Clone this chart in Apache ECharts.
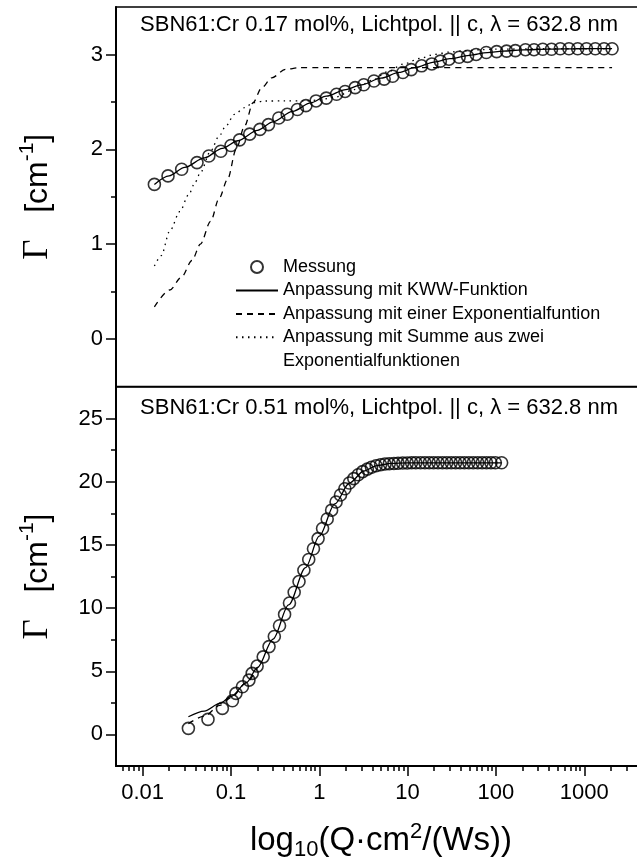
<!DOCTYPE html>
<html>
<head>
<meta charset="utf-8">
<script src="https://cdn.jsdelivr.net/npm/echarts@6/dist/echarts.min.js"></script>
<style>
  html, body { margin: 0; padding: 0; background: #fff; }
  #chart { width: 637px; height: 863px; }
</style>
</head>
<body>
<div id="chart"></div>
<script>
// ---- Upper panel: SBN61:Cr 0.17 mol% ----
const qTop = [0.0136, 0.0194, 0.0277, 0.0413, 0.0562, 0.0768, 0.1002, 0.1253, 0.163, 0.213, 0.266, 0.348,
  0.434, 0.565, 0.706, 0.92, 1.20, 1.57, 1.96, 2.55, 3.19, 4.16, 5.43, 6.78, 8.84, 11.0, 14.4, 18.8, 23.5,
  29.4, 38.3, 47.7, 59.7, 77.8, 102, 132, 166, 216, 270, 339, 426, 535, 671, 843, 1061, 1334, 1675, 2065];
const gammaTop = [1.63, 1.72, 1.79, 1.86, 1.93, 1.98, 2.04, 2.10, 2.16, 2.21, 2.26, 2.33,
  2.37, 2.42, 2.46, 2.51, 2.54, 2.58, 2.61, 2.65, 2.68, 2.72, 2.74, 2.77, 2.81, 2.84, 2.88, 2.90, 2.93,
  2.95, 2.97, 2.98, 3.00, 3.02, 3.03, 3.035, 3.04, 3.05, 3.05, 3.055, 3.055, 3.06, 3.06, 3.06, 3.06, 3.06, 3.06, 3.06];

const qTopKww = [0.0136, 0.02, 0.03, 0.05, 0.08, 0.12, 0.2, 0.3, 0.5, 0.8, 1.2, 2, 3, 5, 8, 12, 20, 30, 50,
  80, 120, 200, 400, 800, 2065];
const gammaTopKww = [1.63, 1.72, 1.81, 1.91, 2.01, 2.09, 2.20, 2.29, 2.40, 2.49, 2.56, 2.63, 2.68, 2.75, 2.81,
  2.86, 2.92, 2.955, 2.99, 3.02, 3.035, 3.048, 3.056, 3.06, 3.062];

const qTopExp1 = [0.0136, 0.0203, 0.0277, 0.0362, 0.0451, 0.0589, 0.0735, 0.0917, 0.1146, 0.143, 0.178,
  0.223, 0.29, 0.415, 0.592, 1.0, 2065];
const gammaTopExp1 = [0.34, 0.517, 0.655, 0.828, 1.0, 1.241, 1.483, 1.684, 2.0, 2.246, 2.491,
  2.649, 2.754, 2.842, 2.86, 2.862, 2.862];

const qTopExp2 = [0.0136, 0.01625, 0.0203, 0.0265, 0.033, 0.0395, 0.0451, 0.0589, 0.0735, 0.0877, 0.1096,
  0.143, 0.178, 0.243, 0.4, 0.706, 1.0, 1.5, 2.5, 4, 6, 9, 14, 20, 30, 45, 70, 100, 300, 2065];
const gammaTopExp2 = [0.77, 0.879, 1.138, 1.345, 1.517, 1.655, 1.754, 1.982, 2.14, 2.246, 2.368,
  2.439, 2.491, 2.509, 2.51, 2.51, 2.52, 2.55, 2.63, 2.73, 2.82, 2.9, 2.96, 3.0, 3.025, 3.04, 3.05, 3.055, 3.06, 3.06];

// ---- Lower panel: SBN61:Cr 0.51 mol% ----
const qBottom = [0.033, 0.055, 0.080, 0.104, 0.114, 0.135, 0.160, 0.174, 0.198, 0.232, 0.27, 0.31, 0.355,
  0.405, 0.46, 0.52, 0.59, 0.67, 0.76, 0.86, 0.97, 1.09, 1.23, 1.38, 1.55, 1.74, 1.95, 2.19, 2.46, 2.76,
  3.1, 3.5, 3.9, 4.4, 4.95, 5.55, 6.2, 7.0, 7.8, 8.8, 9.9, 11.1, 12.4, 14, 15.7, 17.6, 19.7, 22.1, 24.8,
  27.8, 31.2, 35, 39.3, 44, 49.4, 55.4, 62.2, 69.8, 78.3, 87.8, 98.5, 116];
const gammaBottom = [0.48, 1.19, 2.06, 2.66, 3.25, 3.77, 4.30, 4.83, 5.41, 6.14, 6.95, 7.75, 8.6,
  9.5, 10.4, 11.25, 12.1, 13.0, 13.85, 14.7, 15.5, 16.3, 17.05, 17.75, 18.4, 18.95, 19.45, 19.9, 20.25, 20.55,
  20.8, 21.0, 21.15, 21.27, 21.35, 21.4, 21.43, 21.45, 21.47, 21.48, 21.49, 21.5, 21.5, 21.5, 21.5, 21.5,
  21.5, 21.5, 21.5, 21.5, 21.5, 21.5, 21.5, 21.5, 21.5, 21.5, 21.5, 21.5, 21.5, 21.5, 21.5, 21.5];

const qBottomKww = [0.033, 0.05, 0.075, 0.1, 0.15, 0.2, 0.3, 0.45, 0.7, 1.0, 1.5, 2.2, 3.2, 4.5, 6.5, 10, 20, 50, 116];
const gammaBottomKww = [1.4, 1.85, 2.45, 3.0, 4.1, 5.3, 7.55, 10.25, 13.2, 15.7, 18.25, 19.9, 20.85, 21.28,
  21.45, 21.5, 21.5, 21.5, 21.5];

const qBottomExp1 = [0.033, 0.05, 0.075, 0.1, 0.15, 0.2];
const gammaBottomExp1 = [0.85, 1.45, 2.3, 2.9, 4.1, 5.3];

// ---- Axis ticks and labels ----
const xTickValues = [0.01, 0.1, 1, 10, 100, 1000];
const xTickLabels = ['0.01', '0.1', '1', '10', '100', '1000'];
const xMinorTicks = [];
[0.001, 0.01, 0.1, 1, 10, 100, 1000].forEach(function (d) {
  for (let k = 2; k <= 9; k++) {
    const v = +(d * k).toPrecision(3);
    if (v > 0.005 && v < 5000) xMinorTicks.push(v);
  }
});
const yTopTicks = [0, 1, 2, 3];
const yTopMinor = [0.5, 1.5, 2.5];
const yBottomTicks = [0, 5, 10, 15, 20, 25];
const yBottomMinor = [2.5, 7.5, 12.5, 17.5, 22.5];

const titleTop = 'SBN61:Cr 0.17 mol%, Lichtpol. || c, \u03bb = 632.8 nm';
const titleBottom = 'SBN61:Cr 0.51 mol%, Lichtpol. || c, \u03bb = 632.8 nm';
const nameMeas = 'Messung';
const nameKww = 'Anpassung mit KWW-Funktion';
const nameExp1 = 'Anpassung mit einer Exponentialfuntion';
const nameExp2 = 'Anpassung mit Summe aus zwei Exponentialfunktionen';

const SANS = '"Liberation Sans", Arial, Helvetica, sans-serif';
const SERIF = '"Liberation Serif", "Times New Roman", serif';

function pairs(xs, ys) { return xs.map(function (x, i) { return [x, ys[i]]; }); }

function majorX(gridIndex, showLabels) {
  const axis = {
    type: 'log', logBase: 10, gridIndex: gridIndex, min: 0.005, max: 5000, position: 'bottom',
    axisLine: { show: showLabels, onZero: false, lineStyle: { color: '#000', width: 2 } },
    axisTick: { show: showLabels, inside: false, length: 10, customValues: xTickValues,
      lineStyle: { color: '#000', width: 1.5 } },
    axisLabel: { show: showLabels, customValues: xTickValues, margin: 16, color: '#000', fontSize: 22,
      fontFamily: SANS,
      formatter: function (v) { const i = xTickValues.indexOf(v); return i >= 0 ? xTickLabels[i] : ''; } },
    splitLine: { show: false }, minorTick: { show: false }
  };
  if (showLabels) {
    axis.name = '{t|log}{b|10}{t|(Q\u00b7cm}{p|2}{t|/(Ws))}';
    axis.nameLocation = 'middle';
    axis.nameGap = 55;
    axis.nameTextStyle = {
      color: '#000',
      rich: {
        t: { fontFamily: SANS, fontSize: 33, lineHeight: 40, color: '#000' },
        b: { fontFamily: SANS, fontSize: 22, lineHeight: 20, verticalAlign: 'bottom', color: '#000' },
        p: { fontFamily: SANS, fontSize: 22, lineHeight: 24, verticalAlign: 'top', color: '#000' }
      }
    };
  }
  return axis;
}
function minorX(gridIndex) {
  return {
    type: 'log', logBase: 10, gridIndex: gridIndex, min: 0.005, max: 5000, position: 'bottom',
    axisLine: { show: false, onZero: false }, axisLabel: { show: false }, splitLine: { show: false },
    axisTick: { show: true, length: 5, customValues: xMinorTicks, lineStyle: { color: '#000', width: 1.5 } }
  };
}
const yName = {
  name: '{g|\u0393}{t|   [cm}{u|-1}{t|]}',
  nameLocation: 'middle', nameRotate: 90, nameGap: 57,
  nameTextStyle: {
    color: '#000',
    rich: {
      g: { fontFamily: SERIF, fontSize: 35, lineHeight: 42, color: '#000' },
      t: { fontFamily: SANS, fontSize: 32, lineHeight: 42, color: '#000' },
      u: { fontFamily: SANS, fontSize: 21, lineHeight: 26, verticalAlign: 'top', color: '#000' }
    }
  }
};
function majorY(gridIndex, min, max, ticks) {
  return Object.assign({
    type: 'value', gridIndex: gridIndex, min: min, max: max, position: 'left',
    axisLine: { show: true, onZero: false, lineStyle: { color: '#000', width: 2 } },
    axisTick: { show: true, length: 10, customValues: ticks, lineStyle: { color: '#000', width: 1.5 } },
    axisLabel: { customValues: ticks, margin: 13, color: '#000', fontSize: 22, fontFamily: SANS },
    splitLine: { show: false }
  }, yName);
}
function minorY(gridIndex, min, max, ticks) {
  return {
    type: 'value', gridIndex: gridIndex, min: min, max: max, position: 'left',
    axisLine: { show: false, onZero: false }, axisLabel: { show: false }, splitLine: { show: false },
    axisTick: { show: true, length: 5, customValues: ticks, lineStyle: { color: '#000', width: 1.5 } }
  };
}

function circles(name, xi, yi, xs, ys) {
  return {
    name: name, type: 'scatter', xAxisIndex: xi, yAxisIndex: yi, data: pairs(xs, ys),
    symbol: 'circle', symbolSize: 12, z: 4,
    itemStyle: { color: 'rgba(255,255,255,0)', borderColor: '#000', borderWidth: 1.6 }
  };
}
function curve(name, xi, yi, xs, ys, type) {
  return {
    name: name, type: 'line', xAxisIndex: xi, yAxisIndex: yi, data: pairs(xs, ys),
    symbol: 'none', showSymbol: false, smooth: 0.3, smoothMonotone: 'x', z: 3,
    itemStyle: { color: '#000' },
    lineStyle: { color: '#000', width: 1.3, type: type }
  };
}
function lineKey(name) { return { name: name, itemStyle: { opacity: 0 } }; }

const chart = echarts.init(document.getElementById('chart'), null, { renderer: 'canvas' });
chart.setOption({
  animation: false,
  backgroundColor: '#fff',
  grid: [
    { left: 116, top: 7, width: 530, height: 379.5, outerBoundsMode: 'none', containLabel: false,
      show: true, borderColor: '#000', borderWidth: 1.5, backgroundColor: 'transparent' },
    { left: 116, top: 387, width: 530, height: 379, outerBoundsMode: 'none', containLabel: false,
      show: true, borderColor: '#000', borderWidth: 1.5, backgroundColor: 'transparent' }
  ],
  xAxis: [majorX(0, false), majorX(1, true), minorX(1)],
  yAxis: [majorY(0, -0.5, 3.5, yTopTicks), minorY(0, -0.5, 3.5, yTopMinor),
          majorY(1, -2.5, 27.5, yBottomTicks), minorY(1, -2.5, 27.5, yBottomMinor)],
  legend: [
    { data: [{ name: nameMeas }, lineKey(nameKww), lineKey(nameExp1)], orient: 'vertical',
      left: 235, top: 257, padding: 0, itemWidth: 42, itemHeight: 12, itemGap: 3.5, selectedMode: false,
      textStyle: { fontFamily: SANS, fontSize: 18, lineHeight: 20, color: '#000' } },
    { data: [lineKey(nameExp2)], orient: 'vertical', left: 235, top: 302, padding: 0,
      itemWidth: 42, itemHeight: 12, selectedMode: false,
      formatter: function () { return '{a|Anpassung mit Summe aus zwei}\n{a|Exponentialfunktionen}'; },
      textStyle: { fontFamily: SANS, fontSize: 18, lineHeight: 23.5, color: '#000', padding: [23.5, 0, 0, 0],
        rich: { a: { fontFamily: SANS, fontSize: 18, lineHeight: 23.5, color: '#000' } } } }
  ],
  graphic: [
    { type: 'text', x: 379, y: 25, style: { text: titleTop, font: '22px ' + SANS, fill: '#000',
      textAlign: 'center', textVerticalAlign: 'middle' } },
    { type: 'text', x: 379, y: 408, style: { text: titleBottom, font: '22px ' + SANS, fill: '#000',
      textAlign: 'center', textVerticalAlign: 'middle' } }
  ],
  series: [
    curve(nameExp1, 0, 0, qTopExp1, gammaTopExp1, [6, 5]),
    curve(nameExp2, 0, 0, qTopExp2, gammaTopExp2, [1.5, 4.5]),
    curve(nameKww, 0, 0, qTopKww, gammaTopKww, 'solid'),
    circles(nameMeas, 0, 0, qTop, gammaTop),
    curve(nameExp1, 1, 2, qBottomExp1, gammaBottomExp1, [6, 5]),
    curve(nameKww, 1, 2, qBottomKww, gammaBottomKww, 'solid'),
    circles(nameMeas, 1, 2, qBottom, gammaBottom)
  ]
});
</script>
</body>
</html>
